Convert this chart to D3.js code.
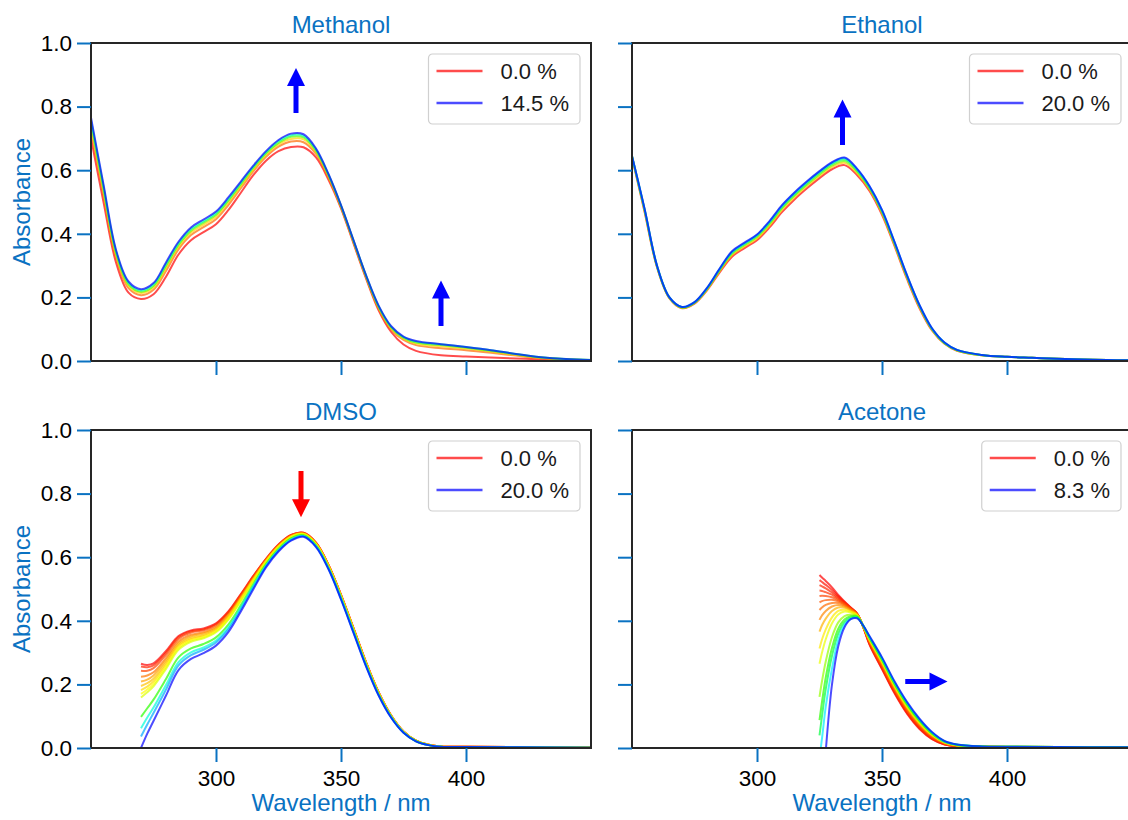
<!DOCTYPE html>
<html><head><meta charset="utf-8">
<script src="https://cdn.jsdelivr.net/npm/d3@7"></script>
<style>
body{margin:0;background:#fff}
svg{display:block}
text{font-family:Arial,"Liberation Sans",Helvetica,sans-serif}
</style>
</head><body>
<svg id="chart" width="1128" height="820"></svg>
<script>
// ---------------- DATA ----------------
const panelNames = ["Methanol", "Ethanol", "DMSO", "Acetone"];
const yTicks = [0.0, 0.2, 0.4, 0.6, 0.8, 1.0];
const xTicks = [300, 350, 400];

// wavelength grid (nm) for the alcohol panels
const alcoholWl = [250,255,260,265,270,275,280,285,290,295,300,305,310,315,320,325,330,335,340,345,350,355,360,365,370,375,380,390,400,410,420,430,440,450];

// water content (%) of each methanol spectrum
const methanolPercent = [0, 1.5, 3.0, 6.0, 9.7, 14.5];
// rows: wavelength, columns: spectra
const methanolAbs = [
 [.700,.726,.739,.749,.757,.765],
 [.500,.522,.533,.541,.548,.555],
 [.310,.326,.334,.340,.345,.350],
 [.215,.229,.236,.241,.246,.250],
 [.195,.207,.214,.218,.222,.226],
 [.210,.224,.231,.236,.241,.245],
 [.265,.283,.292,.299,.305,.310],
 [.335,.351,.359,.365,.370,.375],
 [.380,.396,.404,.410,.415,.420],
 [.405,.421,.429,.435,.440,.445],
 [.430,.446,.454,.460,.465,.470],
 [.475,.491,.499,.505,.510,.515],
 [.530,.544,.551,.556,.561,.565],
 [.585,.597,.603,.608,.611,.615],
 [.630,.642,.648,.653,.656,.660],
 [.660,.674,.681,.686,.691,.695],
 [.673,.690,.698,.705,.710,.715],
 [.672,.688,.697,.703,.708,.713],
 [.640,.651,.657,.661,.665,.668],
 [.570,.577,.581,.584,.586,.588],
 [.480,.484,.486,.488,.489,.490],
 [.370,.374,.376,.378,.379,.380],
 [.260,.264,.266,.268,.269,.270],
 [.160,.166,.169,.171,.173,.175],
 [.092,.099,.103,.106,.108,.110],
 [.052,.066,.070,.073,.075,.077],
 [.032,.050,.055,.058,.061,.063],
 [.018,.040,.046,.050,.053,.053],
 [.014,.034,.039,.042,.044,.044],
 [.011,.026,.030,.032,.034,.034],
 [.008,.017,.019,.021,.022,.022],
 [.005,.009,.010,.011,.012,.012],
 [.003,.005,.005,.006,.006,.006],
 [.002,.003,.003,.003,.003,.003]
];

const ethanolPercent = [0, 4, 8, 12, 16, 20];
const ethanolAbs = [
 [.640,.642,.643,.644,.645,.645],
 [.470,.473,.476,.478,.479,.480],
 [.295,.297,.298,.299,.300,.300],
 [.197,.198,.199,.199,.200,.200],
 [.166,.167,.168,.169,.170,.170],
 [.180,.182,.183,.184,.185,.185],
 [.222,.224,.226,.228,.229,.230],
 [.278,.282,.285,.287,.289,.290],
 [.328,.333,.337,.341,.343,.345],
 [.355,.360,.364,.368,.370,.372],
 [.380,.385,.390,.394,.396,.398],
 [.420,.426,.431,.435,.438,.440],
 [.468,.475,.480,.484,.488,.490],
 [.508,.515,.520,.524,.528,.530],
 [.543,.550,.555,.560,.563,.565],
 [.575,.582,.587,.592,.595,.597],
 [.603,.610,.615,.620,.623,.625],
 [.616,.623,.629,.634,.638,.640],
 [.585,.591,.596,.600,.603,.605],
 [.535,.540,.543,.546,.549,.550],
 [.460,.465,.468,.471,.474,.475],
 [.362,.366,.369,.372,.374,.375],
 [.258,.262,.265,.267,.269,.270],
 [.166,.169,.172,.174,.175,.176],
 [.096,.098,.100,.101,.102,.103],
 [.054,.055,.056,.057,.058,.058],
 [.032,.033,.034,.034,.035,.035],
 [.018,.018,.018,.019,.019,.019],
 [.013,.013,.013,.013,.013,.013],
 [.010,.010,.010,.010,.010,.010],
 [.007,.007,.007,.007,.007,.007],
 [.005,.005,.005,.005,.005,.005],
 [.003,.003,.003,.003,.003,.003],
 [.002,.002,.002,.002,.002,.002]
];

const dmsoWl = [270,272.5,275,280,285,290,295,300,305,310,315,320,325,330,335,340,345,350,355,360,365,370,375,380,385,390,400,420,450];
const dmsoPercent = [0, 0.7, 1.3, 2.3, 3.2, 3.8, 4.3, 5.0, 5.7, 9.2, 14.2, 16.7, 20.0];
const dmsoAbs = [
 [.265,.256,.243,.224,.209,.195,.182,.170,.159,.098,.062,.036,.000],
 [.261,.254,.243,.228,.215,.204,.193,.184,.175,.125,.096,.074,.045],
 [.266,.260,.251,.238,.228,.218,.209,.201,.194,.152,.127,.110,.085],
 [.305,.300,.293,.283,.275,.268,.261,.255,.249,.217,.198,.184,.165],
 [.352,.348,.343,.335,.329,.324,.319,.314,.309,.285,.270,.260,.245],
 [.370,.367,.363,.356,.351,.346,.342,.338,.334,.313,.301,.292,.280],
 [.376,.373,.370,.364,.360,.355,.352,.348,.345,.327,.316,.309,.298],
 [.392,.390,.386,.381,.377,.374,.370,.367,.364,.348,.338,.332,.322],
 [.430,.428,.425,.420,.416,.413,.410,.407,.404,.389,.380,.374,.365],
 [.485,.483,.480,.476,.473,.470,.468,.465,.463,.450,.443,.437,.430],
 [.542,.541,.539,.535,.533,.531,.529,.527,.525,.516,.510,.506,.500],
 [.595,.594,.593,.591,.589,.588,.587,.585,.584,.578,.574,.572,.568],
 [.640,.639,.638,.637,.635,.634,.633,.632,.631,.626,.623,.621,.618],
 [.670,.669,.669,.667,.666,.665,.664,.664,.663,.659,.656,.654,.652],
 [.677,.677,.676,.675,.674,.674,.673,.672,.672,.669,.667,.666,.664],
 [.646,.646,.645,.644,.643,.642,.642,.641,.640,.637,.635,.634,.632],
 [.576,.576,.575,.574,.573,.572,.572,.571,.570,.567,.565,.564,.562],
 [.482,.481,.481,.480,.479,.478,.477,.477,.476,.473,.471,.469,.467],
 [.377,.376,.376,.375,.374,.373,.372,.372,.371,.368,.366,.364,.362],
 [.270,.270,.269,.268,.267,.267,.266,.265,.265,.262,.260,.259,.257],
 [.176,.176,.175,.174,.174,.173,.173,.172,.172,.170,.168,.167,.166],
 [.103,.103,.102,.102,.102,.101,.101,.100,.100,.099,.098,.097,.096],
 [.052,.052,.052,.051,.051,.051,.051,.051,.050,.049,.049,.049,.048],
 [.023,.023,.023,.023,.023,.022,.022,.022,.022,.022,.021,.021,.021],
 [.010,.010,.010,.010,.010,.010,.010,.009,.009,.009,.009,.009,.009],
 [.005,.005,.005,.005,.005,.005,.004,.004,.004,.004,.004,.004,.004],
 [.004,.004,.004,.004,.004,.003,.003,.003,.003,.003,.003,.003,.003],
 [.003,.003,.003,.003,.003,.002,.002,.002,.002,.002,.002,.002,.002],
 [.002,.002,.002,.002,.002,.001,.001,.001,.001,.001,.001,.001,.001]
];

const acetoneWl = [325,326,327.5,330,332.5,335,337.5,340,342.5,345,350,355,360,365,370,375,380,390,400,420,450];
const acetonePercent = [0, 0.14, 0.28, 0.41, 0.55, 0.69, 0.86, 1.1, 1.45, 1.9, 2.25, 2.95, 3.8, 4.65, 6.4, 8.3];
const acetoneAbs = [
 [.544,.528,.512,.495,.478,.458,.434,.403,.366,.313,.265,.161,.088,.040,-.030,null],
 [.536,.522,.508,.494,.479,.462,.442,.417,.386,.341,.300,.210,.145,.100,.030,null],
 [.525,.513,.502,.490,.478,.465,.450,.431,.407,.373,.342,.272,.222,.185,.130,-.010],
 [.505,.497,.489,.482,.474,.466,.456,.445,.431,.411,.392,.349,.315,.290,.250,.200],
 [.481,.477,.473,.469,.465,.461,.456,.450,.442,.431,.420,.395,.375,.360,.340,.320],
 [.461,.459,.457,.455,.453,.451,.448,.445,.441,.435,.429,.415,.404,.396,.387,.380],
 [.442,.441,.440,.439,.438,.437,.436,.434,.432,.429,.426,.419,.414,.410,.406,.405],
 [.423,.423,.423,.422,.422,.421,.421,.420,.419,.418,.417,.415,.413,.412,.410,.408],
 [.380,.380,.381,.381,.381,.382,.382,.382,.383,.383,.383,.384,.384,.384,.385,.385],
 [.325,.327,.329,.330,.332,.334,.336,.338,.339,.341,.343,.345,.347,.348,.350,.352],
 [.248,.250,.253,.255,.258,.260,.263,.265,.268,.270,.273,.275,.278,.280,.283,.285],
 [.172,.175,.177,.180,.182,.185,.187,.190,.192,.195,.197,.200,.202,.205,.207,.210],
 [.108,.110,.113,.115,.118,.120,.123,.125,.128,.130,.133,.135,.138,.140,.143,.145],
 [.060,.062,.064,.066,.069,.071,.073,.075,.077,.079,.081,.083,.086,.088,.090,.092],
 [.028,.029,.031,.032,.034,.035,.037,.038,.040,.041,.043,.044,.046,.047,.049,.050],
 [.011,.012,.012,.013,.014,.015,.015,.016,.017,.018,.018,.019,.020,.021,.021,.022],
 [.005,.005,.006,.006,.007,.007,.007,.008,.008,.009,.009,.009,.010,.010,.011,.011],
 [.004,.004,.004,.004,.004,.004,.004,.004,.005,.005,.005,.005,.005,.005,.005,.005],
 [.003,.003,.003,.003,.003,.003,.003,.003,.004,.004,.004,.004,.004,.004,.004,.004],
 [.002,.002,.002,.002,.002,.002,.002,.002,.003,.003,.003,.003,.003,.003,.003,.003],
 [.001,.001,.001,.001,.001,.001,.001,.001,.002,.002,.002,.002,.002,.002,.002,.002]
];

// arrows: [x1 (nm), y1, x2 (nm), y2]  (tip at x2,y2)
const methanolArrows = [[332, 0.78, 332, 0.921], [390, 0.11, 390, 0.253]];
const ethanolArrows  = [[334.2, 0.679, 334.2, 0.822]];
const dmsoArrows     = [[334, 0.871, 334, 0.726]];
const acetoneArrows  = [[359.3, 0.209, 376.2, 0.209]];
const arrowColors = ["#0000ff", "#0000ff", "#ff0000", "#0000ff"];

// ---------------- DRAWING ----------------
const ACCENT = "#0a72c2";
const FRAME = "#262626";
const svg = d3.select("#chart");

const panels = [
  {name: panelNames[0], wl: alcoholWl, abs: methanolAbs, pct: methanolPercent, arrows: methanolArrows, col: 0, row: 0},
  {name: panelNames[1], wl: alcoholWl, abs: ethanolAbs,  pct: ethanolPercent,  arrows: ethanolArrows,  col: 1, row: 0},
  {name: panelNames[2], wl: dmsoWl,    abs: dmsoAbs,     pct: dmsoPercent,     arrows: dmsoArrows,     col: 0, row: 1},
  {name: panelNames[3], wl: acetoneWl, abs: acetoneAbs,  pct: acetonePercent,  arrows: acetoneArrows,  col: 1, row: 1}
];

const colX = [91, 632];
const rowY = [43, 430];
const PW = 500, PH = 318;

panels.forEach((p, pi) => {
  const x0 = colX[p.col], y0 = rowY[p.row];
  const x = d3.scaleLinear().domain([250, 450]).range([x0, x0 + PW]);
  const y = d3.scaleLinear().domain([0, 1]).range([y0 + PH, y0]);
  const g = svg.append("g");

  const clipId = "clip" + pi;
  svg.append("clipPath").attr("id", clipId).append("rect")
    .attr("x", x0).attr("y", y0).attr("width", PW).attr("height", PH);

  // spectra
  const maxPct = d3.max(p.pct);
  const color = v => d3.hsl(240 * v / maxPct, 1, 0.5).formatHex();
  const line = d3.line()
    .defined(d => d.a !== null)
    .x(d => x(d.w)).y(d => y(d.a))
    .curve(d3.curveCatmullRom.alpha(0.5));
  const lg = g.append("g").attr("clip-path", `url(#${clipId})`);
  p.pct.forEach((v, j) => {
    const pts = p.wl.map((w, i) => ({w: w, a: p.abs[i][j]}));
    lg.append("path").attr("d", line(pts))
      .attr("fill", "none").attr("stroke", color(v))
      .attr("stroke-opacity", 0.7).attr("stroke-width", 2)
      .attr("stroke-linejoin", "round");
  });

  // frame
  g.append("rect").attr("x", x0).attr("y", y0).attr("width", PW).attr("height", PH)
    .attr("fill", "none").attr("stroke", FRAME).attr("stroke-width", 2);

  // axes
  const yAxis = d3.axisLeft(y).tickValues(yTicks).tickSize(14).tickPadding(5)
    .tickFormat(p.col === 0 ? d3.format(".1f") : () => "");
  const ya = g.append("g").attr("transform", `translate(${x0},0)`).call(yAxis);
  const xAxis = d3.axisBottom(x).tickValues(xTicks).tickSize(14).tickPadding(8)
    .tickFormat(p.row === 1 ? d3.format("d") : () => "");
  const xa = g.append("g").attr("transform", `translate(0,${y0 + PH})`).call(xAxis);
  [ya, xa].forEach(a => {
    a.select(".domain").remove();
    a.selectAll(".tick line").attr("stroke", ACCENT).attr("stroke-width", 2);
    a.selectAll(".tick text").attr("fill", "#000").style("font-size", "22.5px");
  });

  // title
  g.append("text").attr("x", x0 + PW / 2).attr("y", y0 - 10)
    .attr("text-anchor", "middle").attr("fill", ACCENT)
    .style("font-size", "24px").text(p.name);

  if (p.col === 0) {
    g.append("text").attr("transform", `translate(30,${y0 + PH / 2}) rotate(-90)`)
      .attr("text-anchor", "middle").attr("fill", ACCENT)
      .style("font-size", "24px").text("Absorbance");
  }
  if (p.row === 1) {
    g.append("text").attr("x", x0 + PW / 2).attr("y", 811)
      .attr("text-anchor", "middle").attr("fill", ACCENT)
      .style("font-size", "24px").text("Wavelength / nm");
  }

  // arrows
  p.arrows.forEach(a => {
    const sx = x(a[0]), sy = y(a[1]), ex = x(a[2]), ey = y(a[3]);
    const len = Math.hypot(ex - sx, ey - sy);
    const ux = (ex - sx) / len, uy = (ey - sy) / len;
    const px = -uy, py = ux;
    const hl = 18, hw = 9, sw = 2.5;
    const bx = ex - ux * hl, by = ey - uy * hl;
    const ptsA = [
      [sx + px * sw, sy + py * sw],
      [bx + px * sw, by + py * sw],
      [bx + px * hw, by + py * hw],
      [ex, ey],
      [bx - px * hw, by - py * hw],
      [bx - px * sw, by - py * sw],
      [sx - px * sw, sy - py * sw]
    ];
    g.append("path").attr("d", "M" + ptsA.map(q => q.join(",")).join("L") + "Z")
      .attr("fill", arrowColors[pi]);
  });

  // legend
  const entries = [0, p.pct.length - 1];
  const leg = g.append("g");
  const box = leg.append("rect");
  const texts = [];
  entries.forEach((j, k) => {
    const ly = 17 + k * 32;
    leg.append("line").attr("x1", 8).attr("x2", 54).attr("y1", ly).attr("y2", ly)
      .attr("stroke", color(p.pct[j])).attr("stroke-opacity", 0.7).attr("stroke-width", 2.4);
    const t = leg.append("text").attr("x", 72).attr("y", ly).attr("dy", "0.36em")
      .attr("fill", "#1a1a1a").style("font-size", "22px")
      .text(p.pct[j].toFixed(1) + " %");
    texts.push(t);
  });
  const tw = d3.max(texts, t => t.node().getComputedTextLength());
  const bw = 72 + tw + 11, bh = 70;
  box.attr("x", 0).attr("y", 0).attr("width", bw).attr("height", bh)
    .attr("rx", 4).attr("fill", "#fff").attr("fill-opacity", 0.85)
    .attr("stroke", "#d0d0d0").attr("stroke-width", 1.2);
  leg.attr("transform", `translate(${x0 + PW - 11 - bw},${y0 + 11})`);
});
</script>
</body></html>
